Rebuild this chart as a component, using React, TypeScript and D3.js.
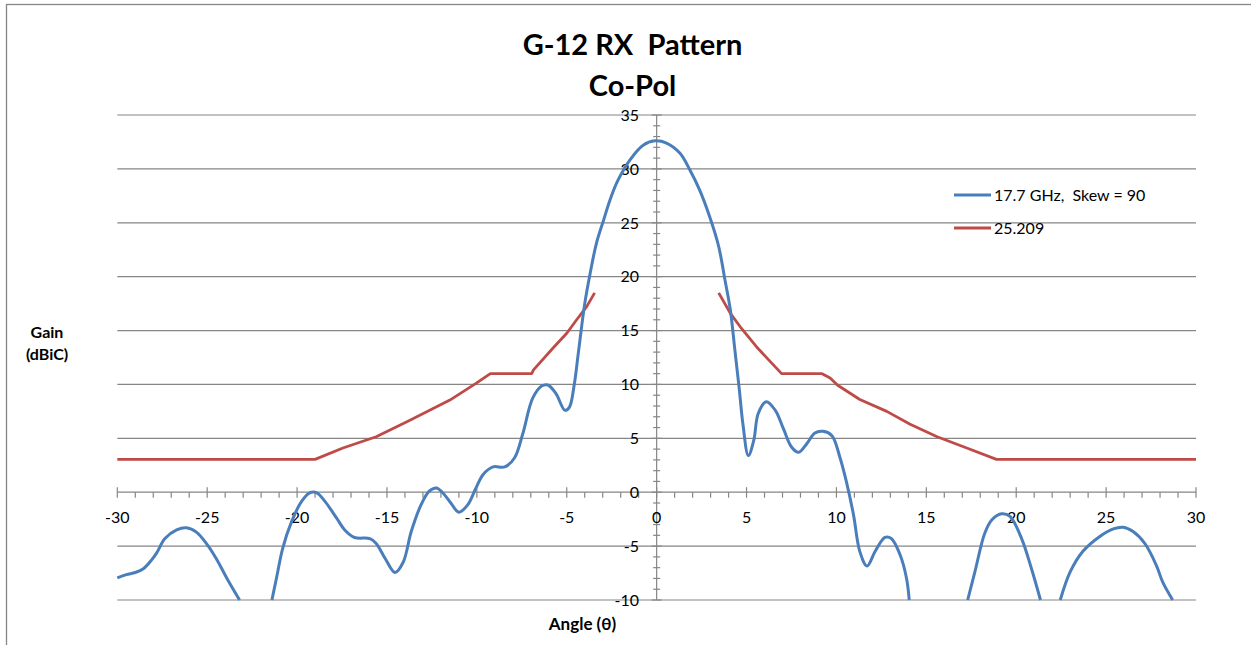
import React from "react";
import * as d3 from "d3";

// ---- data ----
const title1 = "G-12 RX  Pattern";
const title2 = "Co-Pol";
const xTicks = [-30, -25, -20, -15, -10, -5, 0, 5, 10, 15, 20, 25, 30];
const yTicks = [-10, -5, 0, 5, 10, 15, 20, 25, 30, 35];
const seriesNames = ["17.7 GHz,  Skew = 90", "25.209"];

// Measured pattern (null = gap where curve falls below -10)
const patAngle: (number | null)[] = [
  -30, -29.5, -29.0, -28.55, -28.1, -27.8, -27.35, -26.7, -26.15, -25.6, -25.05, -24.5, -23.9, -23.2,
  null,
  -21.4, -21.15, -20.8, -20.3, -19.75, -19.3, -18.9, -18.45, -17.8, -17.35, -16.8, -15.95, -15.6, -15.1,
  -14.55, -14.1, -13.65, -13.1, -12.65, -12.25, -11.9, -11.45, -11.0, -10.5, -10.05, -9.65, -9.1, -8.45,
  -7.9, -7.45, -6.9, -6.4, -6.05, -5.6, -5.1, -4.85, -4.6, -4.35, -4.0, -3.7, -3.35, -2.95, -2.6, -2.15,
  -1.5, -0.75, -0.1, 0.55, 1.3, 1.85, 2.4, 2.95, 3.45, 3.8, 4.1, 4.35, 4.6, 4.8, 5.1, 5.4, 5.65, 6.1,
  6.6, 7.05, 7.5, 7.9, 8.35, 8.8, 9.25, 9.75, 10.2, 10.55, 10.95, 11.3, 11.7, 12.15, 12.7, 13.05, 13.55,
  13.9, 14.05,
  null,
  17.3, 17.7, 18.25, 18.65, 19.2, 19.65, 20.3, 20.85, 21.35,
  null,
  22.45, 23.0, 23.7, 24.65, 25.4, 25.95, 26.5, 27.15, 27.8, 28.15, 28.7,
];
const patGain: (number | null)[] = [
  -7.95, -7.65, -7.45, -7.1, -6.3, -5.6, -4.3, -3.5, -3.3, -3.7, -4.75, -6.15, -8.0, -10,
  null,
  -10, -8.0, -5.2, -2.7, -0.85, -0.05, -0.05, -0.85, -2.4, -3.5, -4.2, -4.3, -4.75, -6.15,
  -7.45, -6.5, -3.65, -1.15, 0.1, 0.4, -0.05, -1.0, -1.85, -1.15, 0.4, 1.65, 2.35, 2.35,
  3.2, 5.4, 8.7, 9.85, 9.95, 9.15, 7.6, 7.9, 9.8, 13.0, 17.5, 20.3, 23.1, 25.25, 27.1, 28.95,
  30.8, 32.2, 32.6, 32.4, 31.45, 29.9, 28.0, 25.55, 22.8, 19.7, 16.9, 13.2, 9.5, 6.3, 3.4, 4.8, 7.3, 8.4,
  7.6, 5.9, 4.2, 3.7, 4.5, 5.5, 5.65, 5.25, 3.2, 1.0, -2.1, -5.5, -6.85, -5.5, -4.2, -4.3, -5.85,
  -8.0, -10,
  null,
  -10, -7.4, -3.8, -2.55, -2.0, -2.25, -4.3, -7.1, -10,
  null,
  -10, -7.4, -5.5, -4.1, -3.4, -3.25, -3.65, -4.75, -6.8, -8.35, -10,
];

// Mask line
const maskAngle: (number | null)[] = [
  -30, -19.0, -17.45, -15.6, -13.75, -11.5, -10.05, -9.25, -6.95, -6.85, -5.75, -5.0, -4.45, -3.9, -3.45,
  null,
  3.45, 4.1, 4.65, 5.55, 6.95, 9.2, 9.65, 10.05, 11.3, 12.8, 14.1, 15.6, 17.25, 18.9, 30,
];
const maskGain: (number | null)[] = [
  3.05, 3.05, 4.1, 5.15, 6.65, 8.55, 10.1, 11.0, 11.0, 11.35, 13.4, 14.75, 16.0, 17.2, 18.5,
  null,
  18.5, 16.6, 15.35, 13.5, 11.0, 11.0, 10.6, 9.95, 8.6, 7.5, 6.3, 5.15, 4.1, 3.05, 3.05,
];

const BLUE = "#4A7EBB";
const RED = "#BE4B48";
const GRID = "#868686";
const FONT = "Lato, 'Open Sans', sans-serif";

type P = { a: number | null; g: number | null };
const zip = (a: (number | null)[], g: (number | null)[]): P[] => a.map((v, i) => ({ a: v, g: g[i] }));

export default function App() {
  const W = 1251, H = 645;
  const x = d3.scaleLinear().domain([-30, 30]).range([117.3, 1196]);
  const y = d3.scaleLinear().domain([-10, 35]).range([600, 115]);

  const lineSmooth = d3
    .line<P>()
    .defined((d) => d.a != null && d.g != null)
    .x((d) => x(d.a as number))
    .y((d) => y(d.g as number))
    .curve(d3.curveCatmullRom.alpha(0.5));
  const lineLin = d3
    .line<P>()
    .defined((d) => d.a != null && d.g != null)
    .x((d) => x(d.a as number))
    .y((d) => y(d.g as number));

  const minorX = d3.range(-30, 31, 1).filter((v) => v % 5 !== 0);
  const minorY = d3.range(-10, 36, 1).filter((v) => v % 5 !== 0);
  const x0 = x(0), y0 = y(0);
  const pre = { whiteSpace: "pre" as const };

  return (
    <svg width={W} height={H} style={{ position: "absolute", left: 0, top: 0, background: "#fff" }}>
      <rect x={6.5} y={4.5} width={1270} height={680} fill="#fff" stroke={GRID} strokeWidth={1.3} />
      {/* gridlines */}
      {yTicks.map((t) => (
        <line key={"g" + t} x1={x(-30)} x2={x(30)} y1={y(t)} y2={y(t)} stroke={GRID} strokeWidth={1.2} />
      ))}
      {/* y axis */}
      <line x1={x0} x2={x0} y1={y(35)} y2={y(-10)} stroke={GRID} strokeWidth={1.2} />
      {minorY.map((t) => (
        <line key={"my" + t} x1={x0 - 3.5} x2={x0 + 3.5} y1={y(t)} y2={y(t)} stroke={GRID} strokeWidth={1.2} />
      ))}
      {yTicks.map((t) => (
        <line key={"My" + t} x1={x0 - 5} x2={x0 + 5} y1={y(t)} y2={y(t)} stroke={GRID} strokeWidth={1.2} />
      ))}
      {/* x axis ticks */}
      {minorX.map((t) => (
        <line key={"mx" + t} x1={x(t)} x2={x(t)} y1={y0} y2={y0 + 5.5} stroke={GRID} strokeWidth={1.2} />
      ))}
      {xTicks.map((t) => (
        <line key={"Mx" + t} x1={x(t)} x2={x(t)} y1={y0 - 5} y2={y0 + 5.5} stroke={GRID} strokeWidth={1.2} />
      ))}
      {/* tick labels */}
      {yTicks.map((t) => (
        <text key={"ly" + t} x={639} y={y(t)} dy="0.36em" textAnchor="end" fontFamily={FONT} fontSize={16} fill="#000">
          {t}
        </text>
      ))}
      {xTicks.map((t) => (
        <text key={"lx" + t} x={x(t)} y={517} dy="0.36em" textAnchor="middle" fontFamily={FONT} fontSize={16} fill="#000">
          {t}
        </text>
      ))}
      {/* series */}
      <path d={lineLin(zip(maskAngle, maskGain)) || ""} fill="none" stroke={RED} strokeWidth={2.8} strokeLinejoin="round" />
      <path d={lineSmooth(zip(patAngle, patGain)) || ""} fill="none" stroke={BLUE} strokeWidth={3} strokeLinejoin="round" />
      {/* titles */}
      <text x={632.5} y={55} textAnchor="middle" fontFamily={FONT} fontWeight="bold" fontSize={29} fill="#000" style={pre}>
        {title1}
      </text>
      <text x={632.5} y={96} textAnchor="middle" fontFamily={FONT} fontWeight="bold" fontSize={29} fill="#000">
        {title2}
      </text>
      <text x={47} y={338} textAnchor="middle" fontFamily={FONT} fontWeight="bold" fontSize={16} fill="#000">
        Gain
      </text>
      <text x={47} y={360} textAnchor="middle" fontFamily={FONT} fontWeight="bold" fontSize={16} fill="#000">
        (dBiC)
      </text>
      <text x={582.5} y={630} textAnchor="middle" fontFamily={FONT} fontWeight="bold" fontSize={17} fill="#000">
        Angle (θ)
      </text>
      {/* legend */}
      {seriesNames.map((n, i) => (
        <g key={n}>
          <line x1={954} x2={991} y1={195 + i * 33} y2={195 + i * 33} stroke={i === 0 ? BLUE : RED} strokeWidth={3} />
          <text x={994} y={195 + i * 33} dy="0.36em" fontFamily={FONT} fontSize={16} fill="#000" style={pre}>
            {n}
          </text>
        </g>
      ))}
    </svg>
  );
}
